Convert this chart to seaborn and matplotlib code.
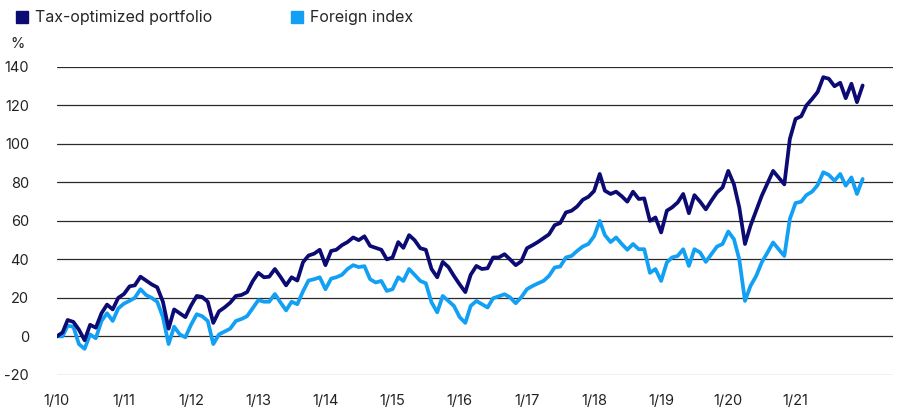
import pandas as pd
import matplotlib.pyplot as plt
import matplotlib.dates as mdates
from matplotlib.lines import Line2D
import seaborn as sns

# monthly cumulative return (%), Jan 2010 onwards
tax_optimized = [
    0, 2, 8.5, 7.5, 3.5, -2, 6, 4.5, 12, 16.5, 14, 20,
    22, 26, 26.5, 31, 29, 27, 25.5, 18, 4, 14, 12, 10,
    16, 21, 20.5, 18, 7, 13, 15, 17.5, 21, 21.5, 23, 28.6,
    33, 30.7, 31, 35, 31, 26.5, 30.7, 29, 38.5, 42, 43, 45,
    37, 44.4, 45, 47.4, 49, 51.4, 50, 52, 47, 46, 45, 40,
    41, 49, 46, 52.6, 50, 45.8, 45, 35, 30.7, 38.7, 36, 31.4,
    27, 23, 32, 36.6, 35, 35.4, 41, 41, 42.7, 40, 37, 39,
    45.8, 47.4, 49, 51, 53, 57.8, 58.9, 64.4, 65.3, 67.5, 71, 72.5,
    75.5, 84.4, 75.7, 74, 75.2, 72.8, 70, 75.2, 71.4, 71.7, 60, 61.8,
    54, 65.3, 67, 69.6, 74, 64, 73.4, 70, 66, 70.5, 74.8, 77.4,
    86, 79, 67, 48, 57.5, 65.3, 73, 79.5, 86, 82.6, 79, 102.6,
    113, 114.4, 120, 123.4, 127, 134.7, 133.9, 130, 131.8, 123.8, 131.3, 121.7,
    130.4,
]
foreign_index = [
    0, 0, 5.5, 5, -4, -6.5, 1, -1, 8, 12, 8, 14.5,
    17, 18.5, 20, 24.5, 21.5, 20, 18, 10, -4, 5, 1, -0.5,
    6, 11.5, 10.5, 8, -4, 1, 2.5, 4, 8, 9, 10.5, 14.6,
    18.8, 18, 18, 22, 17.7, 13.5, 18, 16.7, 23.4, 29, 29.7, 30.7,
    24.5, 30, 30.7, 32, 35, 37, 36, 36.5, 29.7, 28, 28.8, 23.6,
    24.5, 30.7, 28.8, 35, 32, 28.8, 27.6, 17.7, 12.5, 21, 18.4, 15.8,
    10, 7, 15.8, 18.4, 16.7, 15, 19.8, 20.8, 21.9, 20.3, 17.2, 20.3,
    24.5, 26.2, 27.5, 28.8, 31.4, 35.8, 36.3, 41, 41.8, 44.4, 46.7, 48,
    52, 60, 52.6, 49, 51.4, 48, 45, 48, 45.3, 45.3, 33, 35,
    28.8, 38.4, 41, 41.8, 45.3, 36.6, 45.3, 43.6, 38.7, 42.7, 46.7, 48,
    54.5, 50.5, 40, 18.4, 26.2, 31.4, 38.4, 43.5, 48.8, 45.3, 41.8, 61,
    69.3, 70, 73.4, 75.2, 78.6, 85.3, 83.9, 80.9, 84.4, 78.3, 82.6, 74,
    81.8,
]
series_names = ['Tax-optimized portfolio', 'Foreign index']
colors = ['#0b0b73', '#12a0f4']
y_ticks = [-20, 0, 20, 40, 60, 80, 100, 120, 140]
x_tick_years = list(range(2010, 2022))

dates = pd.date_range('2010-01-01', periods=len(tax_optimized), freq='MS')
df = pd.DataFrame({'date': dates, series_names[0]: tax_optimized,
                   series_names[1]: foreign_index})
long_df = df.melt(id_vars='date', var_name='series', value_name='value')

sns.set_style('white')
plt.rcParams['font.family'] = ['Inter', 'DejaVu Sans']

fig = plt.figure(figsize=(9.02, 4.11), dpi=100)
ax = fig.add_axes([0.063, 0.088, 0.927, 0.749])

# gridlines first, lines on top
for y in y_ticks:
    ax.axhline(y, color='#2b2b2b' if y != -20 else '#8a8a8a', lw=0.9, zorder=0)

sns.lineplot(data=long_df, x='date', y='value', hue='series',
             hue_order=series_names[::-1], palette=colors[::-1],
             linewidth=2.7, legend=False, ax=ax, zorder=3)

ax.set_ylim(-20, 140)
ax.set_xlim(pd.Timestamp('2010-01-01'), pd.Timestamp('2022-06-15'))
ax.set_yticks(y_ticks)
ax.set_yticklabels([str(v) for v in y_ticks], fontsize=10.5, color='#222222')
ax.tick_params(axis='y', length=0, pad=20)
ax.set_xticks([pd.Timestamp(f'{yr}-01-01') for yr in x_tick_years])
ax.xaxis.set_major_formatter(mdates.DateFormatter('1/%y'))
ax.tick_params(axis='x', length=6, width=0.9, color='#444444', direction='out',
               labelsize=10.5, labelcolor='#222222', pad=8)
ax.set_xlabel('')
ax.set_ylabel('')
for side in ['top', 'right', 'left', 'bottom']:
    ax.spines[side].set_visible(False)

fig.text(0.011, 0.893, '%', fontsize=10.5, color='#222222', va='center')

handles = [Line2D([0], [0], marker='s', linestyle='none', markersize=9,
                  markerfacecolor=c, markeredgecolor=c) for c in colors]
fig.legend(handles, series_names, loc='upper left', bbox_to_anchor=(0.0, 1.01),
           ncol=2, frameon=False, fontsize=11.5, handletextpad=0.3,
           columnspacing=4.8, handlelength=1.0)

fig.savefig('out.png', dpi=100)
